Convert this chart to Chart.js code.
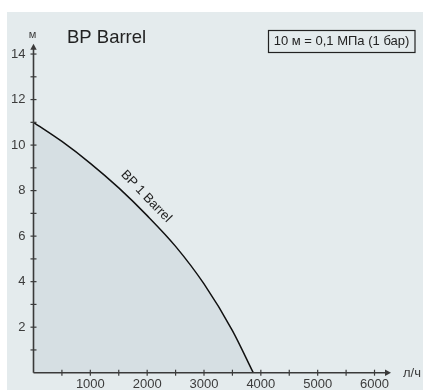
<!DOCTYPE html>
<html><head><meta charset="utf-8">
<script src="https://cdn.jsdelivr.net/npm/chart.js@4/dist/chart.umd.min.js"></script>
<style>html,body{margin:0;padding:0;background:#fff;overflow:hidden}#wrap{width:423px;height:390px;position:relative}</style>
</head><body><div id="wrap"><canvas id="c" width="423" height="390"></canvas></div>
<script>
// ---- data ----
const flow = [0, 500, 1000, 1500, 2000, 2500, 3000, 3500, 3866];
const head = [11.0, 10.16, 9.2, 8.12, 6.9, 5.55, 3.9, 1.85, 0];
const xTickValues = [1000, 2000, 3000, 4000, 5000, 6000];
const xMinorValues = [500, 1500, 2500, 3500, 4500, 5500];
const yTickValues = [2, 4, 6, 8, 10, 12, 14];
const yMinorValues = [1, 3, 5, 7, 9, 11, 13];
const chartTitle = 'BP Barrel';
const seriesName = 'BP 1 Barrel';
const noteText = '10 м = 0,1 МПа (1 бар)';
const xUnit = 'л/ч';
const yUnit = 'м';
const xMax = 6290, yMax = 14.45;
const labelAtFlow = 1817;

const FONT = "'Liberation Sans', Arial, Helvetica, sans-serif";
const AX = '#3a3a3a';

function headAt(q){
  for(let i=0;i<flow.length-1;i++){
    if(q>=flow[i]&&q<=flow[i+1]){const t=(q-flow[i])/(flow[i+1]-flow[i]);return head[i]+t*(head[i+1]-head[i]);}
  }
  return 0;
}

const deco = {
  id:'deco',
  beforeDraw(chart){
    const c=chart.ctx;
    c.save();
    c.fillStyle='#ffffff';c.fillRect(0,0,chart.width,chart.height);
    c.fillStyle='#e4ebed';c.fillRect(7,12,chart.width-7,chart.height-12);
    c.restore();
  },
  afterDatasetsDraw(chart){
    const c=chart.ctx, xs=chart.scales.x, ys=chart.scales.y, a=chart.chartArea;
    const x0=xs.getPixelForValue(0), y0=ys.getPixelForValue(0);
    const xEnd=xs.getPixelForValue(xMax), yEnd=ys.getPixelForValue(yMax);
    c.save();
    c.strokeStyle=AX;c.fillStyle=AX;c.lineWidth=1.6;
    // axes
    c.beginPath();c.moveTo(x0,y0);c.lineTo(xEnd-4,y0);c.stroke();
    c.beginPath();c.moveTo(x0,y0);c.lineTo(x0,yEnd+4);c.stroke();
    // arrows
    c.beginPath();c.moveTo(xEnd,y0);c.lineTo(xEnd-6,y0-3.2);c.lineTo(xEnd-6,y0+3.2);c.closePath();c.fill();
    c.beginPath();c.moveTo(x0,yEnd);c.lineTo(x0-3.2,yEnd+6);c.lineTo(x0+3.2,yEnd+6);c.closePath();c.fill();
    // ticks
    c.lineWidth=1.2;
    xTickValues.concat(xMinorValues).forEach(v=>{const p=xs.getPixelForValue(v);c.beginPath();c.moveTo(p,y0-3);c.lineTo(p,y0+3);c.stroke();});
    yTickValues.concat(yMinorValues).forEach(v=>{const p=ys.getPixelForValue(v);c.beginPath();c.moveTo(x0-3,p);c.lineTo(x0+3,p);c.stroke();});
    // tick labels
    c.fillStyle='#3c3c3c';c.font='13px '+FONT;
    c.textAlign='center';c.textBaseline='middle';
    xTickValues.forEach(v=>c.fillText(String(v),xs.getPixelForValue(v),y0+11.5));
    c.textAlign='right';
    yTickValues.forEach(v=>c.fillText(String(v),x0-8,ys.getPixelForValue(v)));
    // units
    c.font='11px '+FONT;c.textAlign='center';c.textBaseline='middle';
    c.fillText(yUnit,x0-1,35);
    c.font='13px '+FONT;c.textAlign='left';
    c.fillText(xUnit,xEnd+12,y0+1);
    // title
    c.fillStyle='#222';c.font='18.5px '+FONT;c.textAlign='left';c.textBaseline='alphabetic';
    c.fillText(chartTitle,67,43);
    // note box
    c.font='13px '+FONT;c.textAlign='center';c.textBaseline='middle';
    c.fillText(noteText,341.5,41);
    c.strokeStyle='#222';c.lineWidth=1.2;c.strokeRect(268.5,30.5,146.5,22);
    // series label
    const px=xs.getPixelForValue(labelAtFlow), py=ys.getPixelForValue(headAt(labelAtFlow));
    const ang=46*Math.PI/180;
    c.translate(px+13*Math.sin(ang),py-13*Math.cos(ang));
    c.rotate(ang);
    c.fillStyle='#222';c.font='13px '+FONT;c.textAlign='center';c.textBaseline='middle';
    c.fillText(seriesName,0,0);
    c.restore();
  }
};

new Chart(document.getElementById('c'),{
  type:'line',
  data:{datasets:[{
    label:seriesName,
    data:flow.map((q,i)=>({x:q,y:head[i]})),
    borderColor:'#111',borderWidth:1.5,pointRadius:0,
    fill:'origin',backgroundColor:'#d6dfe3',
    cubicInterpolationMode:'monotone'
  }]},
  options:{
    responsive:false,animation:false,
    layout:{padding:{left:33.5,right:32,top:43.8,bottom:17.3}},
    plugins:{legend:{display:false},tooltip:{enabled:false},title:{display:false}},
    scales:{
      x:{type:'linear',min:0,max:xMax,display:false},
      y:{type:'linear',min:0,max:yMax,display:false}
    }
  },
  plugins:[deco]
});
</script></body></html>
